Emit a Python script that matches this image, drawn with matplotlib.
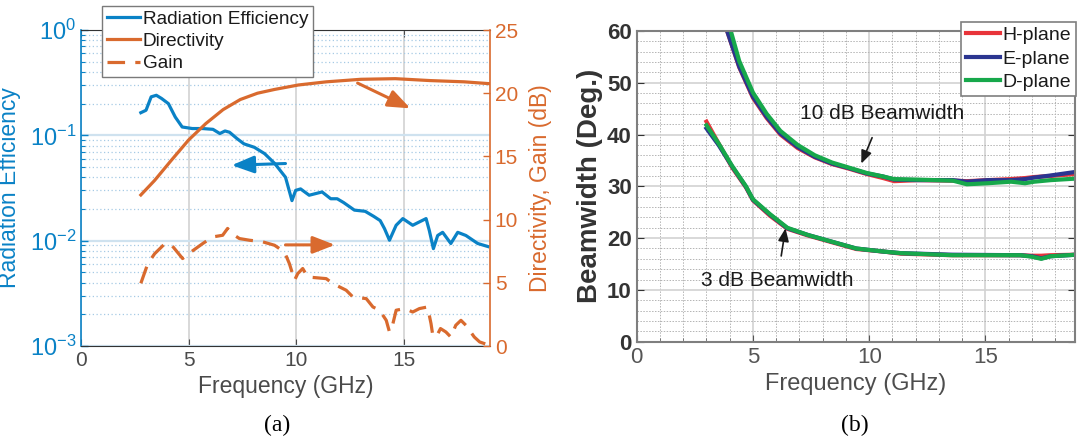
import numpy as np
import matplotlib
matplotlib.use('Agg')
import matplotlib.pyplot as plt
from matplotlib.ticker import MultipleLocator, LogLocator, NullFormatter

plt.rcParams['font.family'] = ['Liberation Sans', 'DejaVu Sans']
plt.rcParams['mathtext.fontset'] = 'custom'
plt.rcParams['mathtext.rm'] = 'Liberation Sans'
plt.rcParams['mathtext.it'] = 'Liberation Sans:italic'
plt.rcParams['mathtext.bf'] = 'Liberation Sans:bold'

# ---------------- data: panel (a) ----------------
freq_eff = [2.78, 3.02, 3.26, 3.5, 3.74, 4.06, 4.38, 4.7, 5.17, 5.65, 6.13, 6.45, 6.69, 6.9,
            7.25, 7.57, 8.05, 8.53, 9.0, 9.5, 9.8, 9.97, 10.2, 10.6, 11.2, 11.6, 11.9, 12.2,
            12.7, 13.2, 13.6, 13.9, 14.1, 14.33, 14.64, 14.95, 15.41, 15.7, 16.03, 16.18,
            16.37, 16.57, 16.8, 17.18, 17.5, 17.88, 18.43, 18.9]
rad_eff = [0.164, 0.173, 0.232, 0.24, 0.224, 0.2, 0.149, 0.12, 0.116, 0.116, 0.114, 0.104,
           0.11, 0.107, 0.093, 0.083, 0.077, 0.067, 0.054, 0.040, 0.024, 0.030, 0.031, 0.027,
           0.029, 0.025, 0.025, 0.023, 0.0195, 0.019, 0.017, 0.0155, 0.013, 0.0101, 0.014,
           0.0162, 0.014, 0.015, 0.0162, 0.0125, 0.0084, 0.0112, 0.012, 0.0094, 0.012,
           0.0112, 0.0094, 0.0088]

freq_dir = [2.78, 3.42, 4.2, 5.0, 5.8, 6.6, 7.4, 8.2, 9.0, 10.1, 11.4, 13.0, 14.6, 16.2, 17.8, 19.0]
directivity = [11.95, 13.1, 14.7, 16.3, 17.6, 18.7, 19.5, 20.0, 20.3, 20.65, 20.9, 21.1, 21.15,
               21.0, 20.9, 20.75]

freq_gain = [2.78, 3.1, 3.42, 3.9, 4.2, 4.72, 5.11, 5.65, 6.12, 6.58, 6.81, 7.0, 7.36, 7.82,
             8.44, 8.99, 9.45, 9.68, 9.92, 10.07, 10.3, 10.53, 11.39, 11.7, 12.32, 12.63,
             13.25, 13.56, 13.87, 14.18, 14.33, 14.49, 14.64, 15.03, 15.41, 15.72, 16.1,
             16.26, 16.33, 16.5, 16.7, 16.95, 17.18, 17.41, 17.65, 17.88, 18.27, 18.52, 18.9]
gain = [4.96, 6.5, 7.3, 8.1, 8.0, 6.92, 7.44, 8.1, 8.63, 8.76, 9.3, 8.9, 8.5, 8.37, 8.24,
        7.97, 7.44, 6.52, 5.2, 5.73, 6.13, 5.46, 5.33, 4.94, 4.41, 3.88, 3.75, 3.09, 2.83,
        2.03, 1.11, 1.77, 2.83, 2.96, 2.69, 2.96, 3.09, 1.77, 0.98, 0.71, 1.38, 1.11, 0.71,
        1.64, 2.03, 1.64, 0.71, 0.32, 0.1]

eff_ticks = [1e-3, 1e-2, 1e-1, 1e0]
eff_ticklabels = [r'$\mathregular{10^{-3}}$', r'$\mathregular{10^{-2}}$',
                  r'$\mathregular{10^{-1}}$', r'$\mathregular{10^{0}}$']
db_ticks = [0, 5, 10, 15, 20, 25]
freq_ticks = [0, 5, 10, 15]

# ---------------- data: panel (b) ----------------
freq_bw10 = [3.89, 4.41, 5.0, 5.59, 6.18, 6.92, 7.66, 8.4, 9.14, 9.88, 10.6, 11.07, 12.1,
             13.6, 14.2, 15.1, 16.1, 16.7, 17.1, 17.8, 18.9]
bw10_h = [60, 53.0, 47.1, 43.2, 40.0, 37.4, 35.6, 34.3, 33.4, 32.4, 31.6, 31.0, 31.2, 31.1,
          31.0, 31.2, 31.4, 31.6, 31.8, 32.0, 32.4]
bw10_e = [60, 53.1, 47.3, 43.4, 40.2, 37.6, 35.7, 34.4, 33.5, 32.5, 31.9, 31.3, 31.2, 31.2,
          30.9, 31.2, 31.2, 31.4, 31.7, 32.1, 32.8]
bw10_d = [62.5, 54.2, 48.1, 44.0, 40.7, 38.0, 36.0, 34.6, 33.6, 32.6, 31.9, 31.4, 31.3, 31.1,
          30.4, 30.6, 30.9, 30.6, 30.9, 31.2, 31.5]

freq_bw3 = [3.0, 3.52, 4.11, 4.7, 5.0, 5.74, 6.48, 7.37, 8.4, 9.44, 10.62, 11.36, 13.58,
            16.5, 17.0, 17.4, 17.8, 18.9]
bw3_h = [42.5, 38.3, 33.6, 29.8, 27.3, 24.3, 21.8, 20.5, 19.2, 17.9, 17.4, 17.0, 16.7, 16.7,
         16.6, 16.6, 16.7, 16.8]
bw3_e = [41.2, 38.0, 33.8, 29.9, 27.4, 24.5, 21.9, 20.6, 19.3, 18.0, 17.4, 17.1, 16.8, 16.7,
         16.5, 16.1, 16.5, 16.8]
bw3_d = [41.8, 38.3, 33.9, 30.0, 27.5, 24.6, 22.0, 20.6, 19.3, 18.0, 17.4, 17.1, 16.7, 16.7,
         16.4, 16.0, 16.5, 16.8]

plane_names = ['H-plane', 'E-plane', 'D-plane']
bw_ticks = [0, 10, 20, 30, 40, 50, 60]

# ---------------- styles ----------------
BLUE = '#0a82c6'
ORANGE = '#d96a2e'
RED = '#e8343a'
NAVY = '#2b3590'
GREEN = '#17a84b'
GRAYTXT = '#4a4a4a'

fig = plt.figure(figsize=(10.78, 4.40), dpi=100)

# ======================= panel (a) =======================
ax = fig.add_axes([81 / 1078, 1 - 346 / 440, (490 - 81) / 1078, (346 - 30) / 440])
ax.set_yscale('log')
ax.set_xlim(0, 19)
ax.set_ylim(1e-3, 1)
ax.set_xticks(freq_ticks)
ax.set_yticks(eff_ticks)
ax.set_yticklabels(eff_ticklabels)
ax.yaxis.set_minor_locator(LogLocator(base=10, subs=np.arange(2, 10)))
ax.yaxis.set_minor_formatter(NullFormatter())
ax.tick_params(axis='y', which='major', colors=BLUE, labelsize=17, direction='in', length=5, width=1)
ax.tick_params(axis='y', which='minor', colors=BLUE, direction='in', length=3, width=0.8)
ax.tick_params(axis='x', colors=GRAYTXT, labelsize=15, direction='in', length=5, top=True)
ax.grid(True, which='major', axis='x', color='#d6d6d6', lw=1.3)
ax.grid(True, which='major', axis='y', color='#cfe2ef', lw=1.6)
ax.grid(True, which='minor', axis='y', color='#a6cae5', lw=0.9, ls=(0, (1, 2)))
ax.set_axisbelow(True)
for s in ['top', 'bottom']:
    ax.spines[s].set_color('#333333')
ax.spines['left'].set_color(BLUE)
ax.spines['left'].set_linewidth(1.2)
ax.spines['right'].set_visible(False)
ax.set_xlabel('Frequency (GHz)', fontsize=16.5, color=GRAYTXT, labelpad=4)
ax.set_ylabel('Radiation Efficiency', fontsize=16.5, color=BLUE, labelpad=6)

l_eff, = ax.plot(freq_eff, rad_eff, color=BLUE, lw=2.3, solid_joinstyle='round',
                 label='Radiation Efficiency')
ax.annotate('', xy=(7.0, 0.052), xytext=(9.5, 0.054),
            arrowprops=dict(arrowstyle='-|>,head_length=0.9,head_width=0.35', color=BLUE,
                            lw=2.2, mutation_scale=15, shrinkA=0, shrinkB=0))

ax2 = ax.twinx()
ax2.set_xlim(0, 19)
ax2.set_ylim(0, 25)
ax2.set_yticks(db_ticks)
ax2.tick_params(axis='y', colors=ORANGE, labelsize=15, direction='in', length=5, width=1)
for s in ['top', 'bottom', 'left']:
    ax2.spines[s].set_visible(False)
ax2.spines['right'].set_color(ORANGE)
ax2.spines['right'].set_linewidth(1.2)
ax2.set_ylabel('Directivity, Gain (dB)', fontsize=16.5, color=ORANGE, labelpad=8)

l_dir, = ax2.plot(freq_dir, directivity, color=ORANGE, lw=2.3, label='Directivity')
l_gain, = ax2.plot(freq_gain, gain, color=ORANGE, lw=2.3, dashes=(5.5, 3.2), label='Gain')
ax2.annotate('', xy=(15.3, 18.8), xytext=(12.85, 20.8),
             arrowprops=dict(arrowstyle='-|>,head_length=0.9,head_width=0.35', color=ORANGE,
                             lw=2.2, mutation_scale=15, shrinkA=0, shrinkB=0))
ax2.annotate('', xy=(11.8, 8.0), xytext=(9.5, 8.0),
             arrowprops=dict(arrowstyle='-|>,head_length=0.9,head_width=0.35', color=ORANGE,
                             lw=2.2, mutation_scale=15, shrinkA=0, shrinkB=0))

leg = ax2.legend(handles=[l_eff, l_dir, l_gain], loc='upper left',
                 bbox_to_anchor=(102 / 1078, 1 - 6 / 440), bbox_transform=fig.transFigure,
                 fontsize=13.7, frameon=True, fancybox=False, framealpha=1,
                 edgecolor='#7a7a7a', handlelength=1.75, handletextpad=0.15,
                 labelspacing=0.25, borderpad=0.25, borderaxespad=0)
leg.get_frame().set_linewidth(1.0)
for t in leg.get_texts():
    t.set_color('#1a1a1a')

fig.text(277 / 1078, 1 - 425 / 440, '(a)', family='Liberation Serif', fontsize=17,
         ha='center', va='center')

# ======================= panel (b) =======================
bx = fig.add_axes([636.7 / 1078, 1 - 341.7 / 440, (1075 - 636.7) / 1078, (341.7 - 31) / 440])
bx.set_xlim(0, 18.85)
bx.set_ylim(0, 60)
bx.set_xticks(freq_ticks)
bx.set_yticks(bw_ticks)
bx.xaxis.set_minor_locator(MultipleLocator(1))
bx.yaxis.set_minor_locator(MultipleLocator(2))
bx.grid(True, which='major', color='#d2d2d2', lw=1.2)
bx.grid(True, which='minor', color='#b4b4b4', lw=0.7, ls=(0, (1.5, 1.5)))
bx.set_axisbelow(True)
bx.tick_params(axis='x', which='major', colors='#555555', labelsize=16, direction='in', length=5)
bx.tick_params(axis='x', which='minor', direction='in', length=3, colors='#666666')
bx.tick_params(axis='y', which='major', labelsize=16, direction='in', length=5, right=True,
               colors='#333333')
bx.tick_params(axis='y', which='minor', direction='in', length=0)
for t in bx.get_yticklabels():
    t.set_fontweight('bold')
for s in bx.spines.values():
    s.set_color('#7f7f7f')
    s.set_linewidth(1.5)
bx.set_xlabel('Frequency (GHz)', fontsize=17, color='#4d4d4d', labelpad=4)
bx.set_ylabel('Beamwidth (Deg.)', fontsize=20, color='#333333', fontweight='bold', labelpad=3)

plane_colors = [RED, NAVY, GREEN]
bw10_sets = [bw10_h, bw10_e, bw10_d]
bw3_sets = [bw3_h, bw3_e, bw3_d]
handles_b = []
for name, col, y10, y3 in zip(plane_names, plane_colors, bw10_sets, bw3_sets):
    h, = bx.plot(freq_bw10, y10, color=col, lw=3.0, label=name, solid_joinstyle='round')
    bx.plot(freq_bw3, y3, color=col, lw=3.0, solid_joinstyle='round')
    handles_b.append(h)

bx.annotate('10 dB Beamwidth', xy=(9.66, 34.4), xytext=(10.55, 44.0), fontsize=15,
            color='#1a1a1a', ha='center', va='center',
            arrowprops=dict(arrowstyle='-|>,head_length=0.6,head_width=0.25', color='#1a1a1a',
                            lw=1.2, mutation_scale=13, shrinkA=9, shrinkB=0))
bx.annotate('3 dB Beamwidth', xy=(6.4, 21.9), xytext=(6.05, 11.8), fontsize=15,
            color='#1a1a1a', ha='center', va='center',
            arrowprops=dict(arrowstyle='-|>,head_length=0.6,head_width=0.25', color='#1a1a1a',
                            lw=1.2, mutation_scale=13, shrinkA=9, shrinkB=0))

legb = bx.legend(handles=handles_b, loc='upper right',
                 bbox_to_anchor=(1076 / 1078, 1 - 21.7 / 440), bbox_transform=fig.transFigure,
                 fontsize=14, frameon=True, fancybox=False, framealpha=1,
                 edgecolor='#7f7f7f', handlelength=1.75, handletextpad=0.15,
                 labelspacing=0.3, borderpad=0.25, borderaxespad=0)
legb.get_frame().set_linewidth(1.2)
for t in legb.get_texts():
    t.set_color('#1a1a1a')

fig.text(855 / 1078, 1 - 425 / 440, '(b)', family='Liberation Serif', fontsize=17,
         ha='center', va='center')

fig.savefig('out.png', dpi=100)
